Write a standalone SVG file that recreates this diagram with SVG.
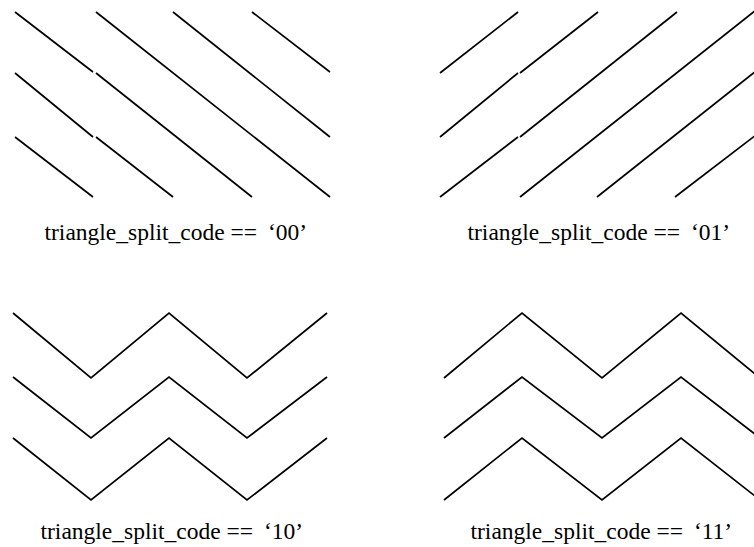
<svg xmlns="http://www.w3.org/2000/svg" width="754" height="547" viewBox="0 0 754 547">
  <style>
    .ln { fill: none; stroke: #000; stroke-width: 1.7; stroke-linecap: butt; stroke-linejoin: miter; }
    .lbl { font-family: "Liberation Serif", "Times New Roman", serif; font-size: 23.5px; fill: #000; }
  </style>
  <rect width="754" height="547" fill="#fff"/>

  <!-- split code 00: diagonals falling to the right -->
  <g id="split-00">
    <g class="ln">
      <line x1="15" y1="12" x2="93" y2="72"/>
      <line x1="15" y1="73" x2="93" y2="137"/>
      <line x1="15" y1="137" x2="93" y2="197"/>
      <line x1="96" y1="12" x2="330" y2="197"/>
      <line x1="96" y1="73" x2="252" y2="197"/>
      <line x1="96" y1="137" x2="173" y2="197"/>
      <line x1="173" y1="12" x2="330" y2="137"/>
      <line x1="252" y1="12" x2="330" y2="72"/>
    </g>
    <text class="lbl" x="44.5" y="240">triangle_split_code ==<tspan dx="5"> ‘00’</tspan></text>
  </g>

  <!-- split code 01: diagonals rising to the right -->
  <g id="split-01">
    <g class="ln">
      <line x1="440" y1="73" x2="518" y2="12"/>
      <line x1="440" y1="137" x2="518" y2="73"/>
      <line x1="440" y1="197" x2="518" y2="137"/>
      <line x1="520" y1="73" x2="598" y2="12"/>
      <line x1="520" y1="137" x2="677" y2="12"/>
      <line x1="520" y1="197" x2="756" y2="10"/>
      <line x1="597" y1="197" x2="756" y2="71"/>
      <line x1="675" y1="197" x2="756" y2="135"/>
    </g>
    <text class="lbl" x="467.5" y="240">triangle_split_code ==<tspan dx="5"> ‘01’</tspan></text>
  </g>

  <!-- split code 10: zigzags starting downward -->
  <g id="split-10">
    <g class="ln">
      <polyline points="13,313 91,378 169,313 247,378 327,313"/>
      <polyline points="13,377 91,438 169,377 247,438 327,377"/>
      <polyline points="13,438 91,500 169,438 247,500 327,438"/>
    </g>
    <text class="lbl" x="40.5" y="539">triangle_split_code ==<tspan dx="5"> ‘10’</tspan></text>
  </g>

  <!-- split code 11: zigzags starting upward -->
  <g id="split-11">
    <g class="ln">
      <polyline points="444,378 522,313 602,378 681,313 760,378"/>
      <polyline points="444,438 522,377 602,438 681,377 760,438"/>
      <polyline points="444,500 522,438 602,500 681,438 760,500"/>
    </g>
    <text class="lbl" x="470.5" y="539">triangle_split_code ==<tspan dx="5"> ‘11’</tspan></text>
  </g>
</svg>
